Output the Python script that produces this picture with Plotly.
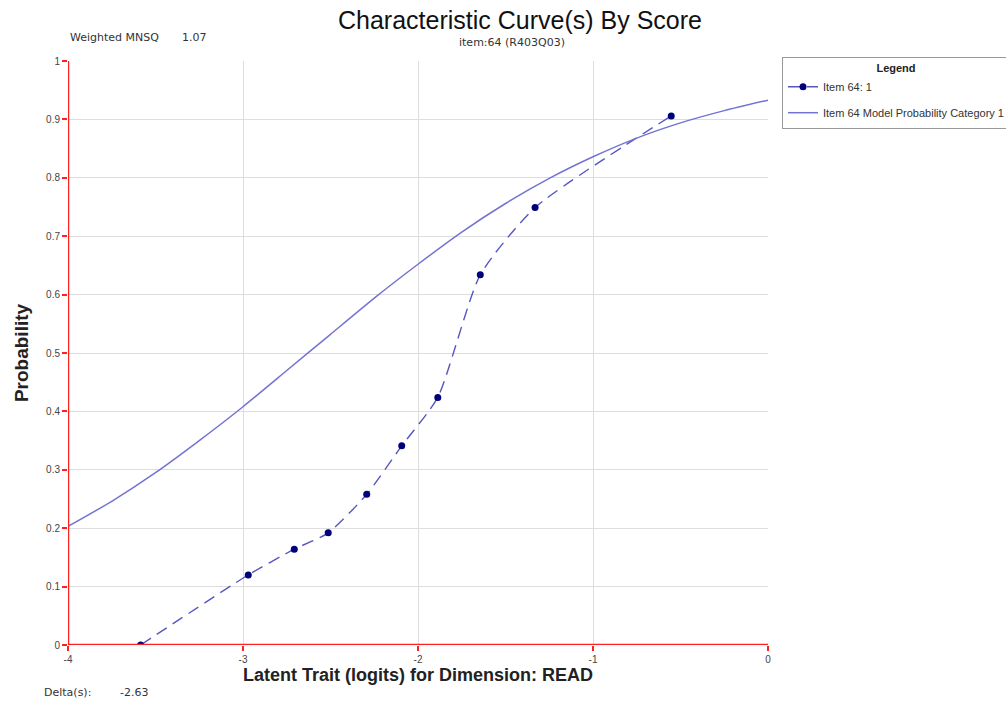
import plotly.graph_objects as go

# Observed proportions for item 64, score category 1
obs_x = [-3.585, -2.970, -2.707, -2.513, -2.293, -2.093, -1.887, -1.644, -1.331, -0.553]
obs_y = [0.000, 0.120, 0.164, 0.192, 0.258, 0.341, 0.424, 0.634, 0.749, 0.906]

# Model probability curve for category 1
model_x = [-4.0, -3.75, -3.5, -3.25, -3.0, -2.75, -2.5, -2.25, -2.0,
           -1.75, -1.5, -1.25, -1.0, -0.75, -0.5, -0.25, 0.0]
model_y = [0.203, 0.246, 0.295, 0.350, 0.408, 0.470, 0.532, 0.594, 0.652,
           0.707, 0.756, 0.799, 0.836, 0.868, 0.894, 0.915, 0.933]

x_ticks = [-4, -3, -2, -1, 0]
y_ticks = [0, 0.1, 0.2, 0.3, 0.4, 0.5, 0.6, 0.7, 0.8, 0.9, 1]
y_tick_text = ["0", "0.1", "0.2", "0.3", "0.4", "0.5", "0.6", "0.7", "0.8", "0.9", "1"]

FONT = "Arial, Liberation Sans, sans-serif"
SMALL = "DejaVu Sans, Verdana, sans-serif"

fig = go.Figure()
fig.add_trace(go.Scatter(
    x=obs_x, y=obs_y, mode="lines+markers", name="Item 64: 1", legendgroup="obs",
    line=dict(color="#5656c0", width=1.4, dash="12px,7px", shape="spline", smoothing=0.6),
    marker=dict(color="#00007a", size=7),
))
fig.add_trace(go.Scatter(
    x=model_x, y=model_y, mode="lines", name="Item 64 Model Probability Category 1",
    legendgroup="model",
    line=dict(color="#7373d2", width=1.5, shape="spline", smoothing=0.5),
))

fig.update_layout(
    width=1006, height=704,
    margin=dict(l=68, r=238, t=61, b=59, autoexpand=False),
    paper_bgcolor="white", plot_bgcolor="white",
    font=dict(family=FONT, size=10, color="#333333"),
    showlegend=True,
    legend=dict(
        x=1.02, y=1.007, xanchor="left", yanchor="top",
        bordercolor="#999999", borderwidth=1, bgcolor="white",
        font=dict(size=11, color="#333333"),
        title=dict(text="<b>Legend</b>", side="top center", font=dict(size=11, color="#222222")),
        itemwidth=30, traceorder="grouped", tracegroupgap=7,
    ),
    xaxis=dict(
        range=[-4, 0], tickvals=x_ticks, ticktext=[str(v) for v in x_ticks],
        showgrid=True, gridcolor="#dddddd", gridwidth=1,
        zeroline=False, showline=False,
        ticks="outside", ticklen=5, tickcolor="#ff2020", tickwidth=2,
        tickfont=dict(size=10, color="#444444"),
        title=dict(text="<b>Latent Trait (logits) for Dimension: READ</b>",
                   font=dict(size=18, color="#222222"), standoff=4),
    ),
    yaxis=dict(
        range=[0, 1], tickvals=y_ticks, ticktext=y_tick_text,
        showgrid=True, gridcolor="#dddddd", gridwidth=1,
        zeroline=False, showline=False,
        ticks="outside", ticklen=5, tickcolor="#ff2020", tickwidth=2,
        tickfont=dict(size=10, color="#444444"),
        title=dict(text="<b>Probability</b>", font=dict(size=19, color="#222222"), standoff=12),
    ),
)

# Red axis lines along x = -4 and y = 0
fig.add_shape(type="line", xref="x", yref="y", x0=-4, x1=-4, y0=0, y1=1,
              line=dict(color="#ff2020", width=2.5), layer="above")
fig.add_shape(type="line", xref="x", yref="y", x0=-4, x1=0, y0=0, y1=0,
              line=dict(color="#ff2020", width=2.5), layer="above")

fig.add_annotation(text="Characteristic Curve(s) By Score", xref="paper", yref="paper",
                   x=0.646, y=1.0, yshift=41, xanchor="center", yanchor="middle",
                   showarrow=False, font=dict(size=25, color="#111111"))
fig.add_annotation(text="item:64 (R403Q03)", xref="paper", yref="paper",
                   x=0.634, y=1.0, yshift=19, xanchor="center", yanchor="middle",
                   showarrow=False, font=dict(family=SMALL, size=11, color="#333333"))
fig.add_annotation(text="Weighted MNSQ", xref="paper", yref="paper",
                   x=0.0, y=1.0, yshift=24, xanchor="left", yanchor="middle",
                   showarrow=False, font=dict(family=SMALL, size=11, color="#333333"))
fig.add_annotation(text="1.07", xref="paper", yref="paper",
                   x=0.160, y=1.0, yshift=24, xanchor="left", yanchor="middle",
                   showarrow=False, font=dict(family=SMALL, size=11, color="#333333"))
fig.add_annotation(text="Delta(s):", xref="paper", yref="paper",
                   x=-0.037, y=0.0, yshift=-47, xanchor="left", yanchor="middle",
                   showarrow=False, font=dict(family=SMALL, size=11, color="#333333"))
fig.add_annotation(text="-2.63", xref="paper", yref="paper",
                   x=0.071, y=0.0, yshift=-47, xanchor="left", yanchor="middle",
                   showarrow=False, font=dict(family=SMALL, size=11, color="#333333"))

fig.write_html("out.html")
